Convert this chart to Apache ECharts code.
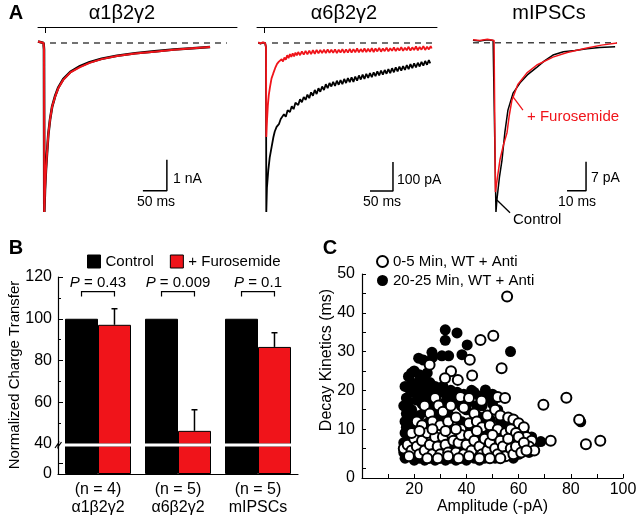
<!DOCTYPE html>
<html>
<head>
<meta charset="utf-8">
<script src="https://cdn.jsdelivr.net/npm/echarts@6/dist/echarts.min.js"></script>
<style>
  html, body { margin: 0; padding: 0; background: #fff; }
  #main { width: 640px; height: 519px; }
</style>
</head>
<body>
<div id="main"></div>
<script>
const FONT = "'Liberation Sans', Arial, Helvetica, sans-serif";
const RED = '#f0141a';

// ---- panel A : current traces, [time (ms), current] ----
// a1b2g2, nA
const a1Control = [[-12.5,0.05],[-1,0],[0,-0.2],[0.6,-5.45],[2,-4.75],[4,-4.1],[6.3,-3.55],[9,-2.95],[12.5,-2.48],[17,-2.05],[23,-1.72],[30,-1.43],[40,-1.17],[55,-0.93],[75,-0.75],[95,-0.62],[120,-0.51],[152,-0.41],[190,-0.33],[230,-0.27],[270,-0.21],[310,-0.17],[346,-0.13]];
const a1Furo = [[-12.5,0.05],[-1,0],[0,-0.2],[0.6,-5.45],[2,-4.75],[4,-4.1],[6.3,-3.55],[9,-2.95],[12.5,-2.48],[17,-2.05],[23,-1.74],[30,-1.45],[40,-1.19],[55,-0.95],[75,-0.78],[95,-0.64],[120,-0.52],[152,-0.42],[190,-0.34],[230,-0.28],[270,-0.22],[310,-0.17],[346,-0.13]];
// a6b2g2, pA
const a6Control = [[-17,1],[-12,-2],[-7,1],[-2,0],[0,-15],[0.6,-583],[2,-500],[5,-438],[8,-395],[12.3,-357],[16,-325],[19,-305],[23,-289],[26,-284],[28,-280],[32,-262],[35,-266],[39,-246],[43,-254],[47,-232],[52,-238],[56,-218],[60,-228],[64,-206],[70,-214],[74,-194],[78,-204],[82,-186],[86,-196],[90,-178],[94,-190],[98,-170],[102,-182],[106,-162],[110,-176],[114,-156],[118,-168],[122,-150],[126,-162],[130,-142],[134,-156],[138,-138],[142,-150],[146,-134],[150,-148],[154,-130],[158,-144],[162,-128],[166,-142],[170,-124],[174,-138],[178,-121],[182,-135],[186,-118],[190,-134],[194,-116],[198,-130],[202,-112],[206,-126],[210,-109],[214,-124],[218,-106],[222,-120],[226,-104],[230,-118],[234,-101],[238,-114],[242,-98],[246,-112],[250,-95],[254,-109],[258,-93],[262,-106],[266,-90],[270,-104],[274,-87],[278,-101],[282,-84],[286,-98],[290,-81],[294,-95],[298,-80],[302,-93],[306,-76],[310,-90],[314,-73],[318,-87],[322,-70],[326,-84],[330,-68],[334,-81],[338,-65],[342,-78],[346,-62],[350,-75],[354,-59],[357,-70]];
const a6Furo = [[-17,2],[-12,-1],[-7,2],[-2,0],[0,-15],[0.6,-324],[1.5,-290],[2.2,-266],[4,-215],[6,-180],[8.7,-151],[12,-122],[15.9,-104],[20,-86],[22,-90],[24,-72],[26,-78],[28,-64],[31,-70],[34,-56],[37,-64],[40,-50],[43,-58],[46,-42],[49,-52],[52,-38],[55,-48],[58,-36],[61,-46],[64,-33],[67,-43],[70,-31],[74,-42],[78,-29],[82,-40],[86,-27],[90,-39],[94,-26],[98,-38],[102,-25],[106,-37],[110,-24],[114,-36],[118,-24],[122,-35],[126,-23],[130,-35],[134,-22],[138,-34],[142,-23],[146,-34],[150,-22],[154,-35],[158,-23],[162,-33],[166,-21],[170,-34],[174,-22],[178,-33],[182,-20],[186,-33],[190,-21],[194,-32],[198,-19],[202,-32],[206,-21],[210,-31],[214,-19],[218,-31],[222,-20],[226,-30],[230,-18],[234,-31],[238,-19],[242,-29],[246,-17],[250,-30],[254,-19],[258,-28],[262,-16],[266,-29],[270,-18],[274,-27],[278,-15],[282,-28],[286,-17],[290,-26],[294,-14],[298,-27],[302,-16],[306,-25],[310,-13],[314,-26],[318,-15],[322,-24],[326,-12],[330,-25],[334,-14],[338,-23],[342,-11],[346,-24],[350,-13],[354,-22],[358,-11],[360,-19]];
// mIPSCs, pA
const mControl = [[-11.6,0.2],[-8,0],[-4,0.3],[-1,0.1],[0,0],[0.5,-41.3],[1,-38.4],[2.3,-33],[3.7,-28.7],[5.2,-22],[6.8,-16.7],[9.5,-12.6],[13.2,-10.1],[17,-8.2],[22.1,-6.3],[26,-4.8],[30.5,-3.4],[36,-2.6],[42,-2.3],[48.4,-1.9],[55,-1.6],[63.2,-1.4]];
const mFuro = [[-11.6,0.3],[-8,0.1],[-4,0.4],[-0.5,0.1],[0,-0.2],[0.2,-36.5],[2.6,-28.7],[4.5,-25],[6.3,-22.2],[7.5,-18],[8.9,-14.3],[12,-10.5],[16.8,-7.7],[22,-5.8],[30.5,-3.9],[38,-2.8],[48.4,-1.7],[56,-1.0],[64.2,-0.5]];

// ---- panel B : normalized charge transfer ----
const groups = ['α1β2γ2', 'α6β2γ2', 'mIPSCs'];
const nCells = [4, 5, 5];
const controlMean = [100, 100, 100];
const furoMean = [97.1, 46.3, 86.5];
const furoSem = [7.7, 10.1, 6.8];
const pValues = ['0.43', '0.009', '0.1'];
const bracketLevel = 113;

// ---- panel C : decay vs amplitude, [amplitude (-pA), decay (ms)] ----
const late = [[31.9,35.6],[31.9,32.9],[36.4,34.8],[40.3,31.7],[56.9,30.0],[26.8,29.8],[21.7,28.3],[23.5,27.8],[30.6,28.9],[33.2,28.9],[38.3,29.2],[27,28.5],
  [17.8,23.6],[22.3,22.7],[24,23.5],[19,22],[21,21],[23,20.5],[25,21],[18,20.5],[20,19.5],[22,19],[24,18.5],[26,19],[27,17.5],[21,17.5],[23,16.5],[30,20.1],[32,19],[33,18],[35,17.5],[36.5,19.5],[43,19.5],[47.3,20.1],[45,18.5],[50,16.5],[52,15],[29,16.5],
  [16.5,12],[16,16],[17,18],[18,17],[16.5,21],[19,24.5],[20,25],[22,24],[25,24.5],[20,13],[17,10.5],[19,11.5],[26,22],[28,21],[29,19.5],[31,21],[34,20],[37,18],[39,19],[41,17],[42,20],[46,16],[48,18],[50,19],[44,16],[38,16],[32,17],[27,15],[30,14.5],
  [17,14],[19,15],[18,12],[16.5,9],[18,8.5],[20,10.5],[22,13.5],[24,14.5],[21,8],[25,11.5],[28,13],[30,12],[33,14],[35,10],[38,12],[40,15],[42,11],[44,13.5],[47,10],[49,12.5],[51,9],[53,12],[55.5,10.5],[57,8.5],[59,7],[61,8],[62,5.5],[68.5,6.8],[83.8,11.9],[54,11],[45,8],
  [46,13],[50,10],[53,9.5],[56,11.5],[58,10],[60,9.5],[63,6],[65,8],[52,7],[44,6],[40,9],[36,8],[28,7],[24,9],[20,4],[22,6],[16,4],[26,3.5],[33,3.5],[42,3.5],[54,3],[58,2.5],[47,4],
  [16.5,2.5],[18,3],[20,2],[22,2.5],[24,2],[26,2.5],[28,2],[30,2.5],[32,2],[34,2.5],[36,2],[38,2.5],[40,2],[43,2.5],[45,2],[47,2.5],[49,3],[51,2.5],[17,5],[19,6.5],[23,5],[27,4.5],[31,5],[35,5.5],[39,4.5],[44,4],[48,5],[52,4.5],[56,4],[60,3.5],[64,4],[66,6],[58,6.5],[62,9],[16,6.5]];
const early = [[55.6,44.2],[50.3,34.1],[45.4,33.0],[41.3,27.9],[53.5,25.7],[34.1,24.9],[31.8,23.1],[36.7,22.7],[42.2,23.8],[25.9,26.6],[69.5,16.3],[78.3,18.1],[83.2,12.4],[72.3,7.0],[85.8,6.1],[91.3,7.0],
  [28,18],[37.7,18.3],[41,18],[45.8,17.3],[52,18.3],[54.8,18],[29.3,16.1],[24,16],[26,14],[31,14.5],[34,16],[39,15.5],[43,14],[48,13.5],[51,15],[53,13.5],[56,13],[58,12.5],[60,11.5],[62,10.5],[21,12],[23,11],[27,12],[30,11],[33,12],[36,13],[38,10],[41,11.5],[44,12],[46,10.5],[49,11],[52,10],[55,9],[57,10],[59,9],[63,8],[65,7],[64,5.5],[66,4.5],[61,6],
  [16,5],[17.5,6],[19,4.5],[20,7.5],[21,5.5],[22,3.5],[23,7],[24,4.5],[25,9],[26,6],[27,3.5],[28,8],[29,5.5],[30,3.5],[31,8],[32,6],[33,4],[34,9],[35,7],[36,4],[37,6.5],[38,8.5],[39,3.5],[40,6],[41,8.5],[42,4.5],[43,7],[44,9.5],[45,5.5],[46,3.5],[47,7.5],[48,4.5],[49,6.5],[50,8.5],[51,5],[52,3.5],[53,7],[54,5.5],[55,3],[56,7.5],[57,5],[58,3.5],[59,5.5],[60,8],[61,4],[62,6.5],[63,4.5],[19,9],[22,9.5],[25,2.5],[29,2.5],[33,3],[37,2.5],[41,3],[45,2.5],[49,2.5],[53,2.5],[27,10],[32,9.5],[36,10],[18,3]];

const chart = echarts.init(document.getElementById('main'));

// helpers for the trace panels
function trace(grid, data, color, width) {
  return { type: 'line', xAxisIndex: grid, yAxisIndex: grid, data: data, symbol: 'none',
    lineStyle: { color: color, width: width }, z: 3, silent: true };
}
function dashed(grid, x0, x1, y) {
  return { type: 'line', xAxisIndex: grid, yAxisIndex: grid, data: [[x0, y], [x1, y]], symbol: 'none',
    lineStyle: { color: '#444', width: 1.5, type: [6, 5] }, z: 2, silent: true };
}
function scaleBar(grid, x0, x1, yb, yt) {
  return { type: 'line', xAxisIndex: grid, yAxisIndex: grid, data: [[x0, yb], [x1, yb], [x1, yt]], symbol: 'none',
    lineStyle: { color: '#000', width: 1.5 }, silent: true };
}

const barShift = 0.206;

const option = {
  animation: false,
  textStyle: { fontFamily: FONT },
  grid: [
    { left: 38, top: 27, width: 199, height: 193 },
    { left: 257, top: 27, width: 180, height: 193 },
    { left: 470, top: 27, width: 155, height: 204.4 },
    { left: 58, top: 277, width: 240, height: 167 },
    { left: 58, top: 446, width: 240, height: 28 },
    { left: 362, top: 274, width: 261, height: 204 }
  ],
  xAxis: [
    { type: 'value', gridIndex: 0, min: -12.5, max: 402.1, position: 'top',
      axisLine: { onZero: false, lineStyle: { color: '#000', width: 1 } },
      axisTick: { show: true, inside: true, length: 6, customValues: [2], lineStyle: { color: '#000' } },
      axisLabel: { show: false }, splitLine: { show: false } },
    { type: 'value', gridIndex: 1, min: -19.6, max: 371.7, position: 'top',
      axisLine: { onZero: false, lineStyle: { color: '#000', width: 1 } },
      axisTick: { show: true, inside: true, length: 6, customValues: [-4], lineStyle: { color: '#000' } },
      axisLabel: { show: false }, splitLine: { show: false } },
    { type: 'value', gridIndex: 2, min: -13.16, max: 68.4, show: false },
    { type: 'category', gridIndex: 3, data: groups, show: false, axisLine: { show: false } },
    { type: 'category', gridIndex: 4, data: groups,
      axisLine: { onZero: false, lineStyle: { color: '#000', width: 1.2 } },
      axisTick: { show: false },
      axisLabel: { interval: 0, color: '#000', fontSize: 16, lineHeight: 18, margin: 7, fontFamily: FONT,
        formatter: (v, i) => '(n = ' + nCells[i] + ')\n' + v } },
    { type: 'value', gridIndex: 5, min: 0, max: 100, interval: 10,
      name: 'Amplitude (-pA)', nameLocation: 'middle', nameGap: 21,
      nameTextStyle: { color: '#000', fontSize: 16, fontFamily: FONT },
      axisLine: { onZero: false, lineStyle: { color: '#000', width: 1.2 } },
      axisTick: { inside: true, length: 4, lineStyle: { color: '#000' } },
      axisLabel: { color: '#000', fontSize: 16, margin: 4, fontFamily: FONT,
        formatter: v => (v > 0 && v % 20 === 0) ? String(v) : '' },
      splitLine: { show: false } }
  ],
  yAxis: [
    { type: 'value', gridIndex: 0, min: -5.71, max: 0.516, show: false },
    { type: 'value', gridIndex: 1, min: -610.3, max: 55.2, show: false },
    { type: 'value', gridIndex: 2, min: -46, max: 3.38, show: false },
    { type: 'value', gridIndex: 3, min: 40, max: 120, interval: 20,
      axisLine: { show: true, onZero: false, lineStyle: { color: '#000', width: 1.2 } },
      axisTick: { show: true, inside: true, length: 5, lineStyle: { color: '#000' } },
      minorTick: { show: true, splitNumber: 2, length: 3, lineStyle: { color: '#000' } },
      axisLabel: { color: '#000', fontSize: 16, margin: 6, fontFamily: FONT },
      splitLine: { show: false } },
    { type: 'value', gridIndex: 4, min: 0, max: 26,
      axisLine: { show: true, onZero: false, lineStyle: { color: '#000', width: 1.2 } },
      axisTick: { show: true, inside: true, length: 5, customValues: [10], lineStyle: { color: '#000' } },
      axisLabel: { color: '#000', fontSize: 16, margin: 6, fontFamily: FONT, customValues: [0] },
      splitLine: { show: false } },
    { type: 'value', gridIndex: 5, min: -2.6, max: 50,
      axisLine: { show: true, onZero: false, lineStyle: { color: '#000', width: 1.2 } },
      axisTick: { show: true, inside: true, length: 4, customValues: [0,5,10,15,20,25,30,35,40,45,50], lineStyle: { color: '#000' } },
      axisLabel: { color: '#000', fontSize: 16, margin: 7, fontFamily: FONT, customValues: [-2.6,10,20,30,40,50],
        formatter: v => v < 0 ? '0' : String(Math.round(v)) },
      splitLine: { show: false } }
  ],
  legend: [
    { left: 82, top: 249, itemWidth: 13, itemHeight: 13, itemGap: 16, selectedMode: false,
      textStyle: { fontSize: 15, color: '#000', fontFamily: FONT },
      data: [
        { name: 'Control', icon: 'rect', itemStyle: { color: '#000', borderColor: '#000', borderWidth: 1 } },
        { name: '+ Furosemide', icon: 'rect', itemStyle: { color: RED, borderColor: '#000', borderWidth: 1 } }
      ] },
    { left: 371, top: 249, orient: 'vertical', itemWidth: 11, itemHeight: 11, itemGap: 4, selectedMode: false,
      textStyle: { fontSize: 15, color: '#000', fontFamily: FONT },
      data: [
        { name: '0-5 Min, WT + Anti', icon: 'circle', itemStyle: { color: '#fff', borderColor: '#000', borderWidth: 2 } },
        { name: '20-25 Min, WT + Anti', icon: 'circle', itemStyle: { color: '#000', borderColor: '#000', borderWidth: 0 } }
      ] }
  ],
  series: [
    // panel A
    dashed(0, 12.5, 381, 0),
    trace(0, a1Control, '#000', 2.6),
    trace(0, a1Furo, RED, 2),
    dashed(1, 13, 361, 0),
    trace(1, a6Control, '#000', 1.8),
    trace(1, a6Furo, RED, 1.8),
    dashed(2, -11.6, 64, -0.4),
    trace(2, mControl, '#000', 1.5),
    trace(2, mFuro, RED, 1.5),
    scaleBar(0, 206, 256, -4.77, -3.77),
    scaleBar(1, 226, 276, -510, -410),
    scaleBar(2, 37.9, 47.9, -36.2, -29.2),
    { type: 'line', xAxisIndex: 2, yAxisIndex: 2, data: [[9.5, -13.5], [14.7, -16.7]], symbol: 'none',
      lineStyle: { color: RED, width: 1.3 }, silent: true },
    { type: 'line', xAxisIndex: 2, yAxisIndex: 2, data: [[1, -38.4], [7.9, -41.5]], symbol: 'none',
      lineStyle: { color: '#000', width: 1.3 }, silent: true },

    // panel B, upper and lower part of the broken axis
    { name: 'Control', type: 'bar', xAxisIndex: 3, yAxisIndex: 3, data: controlMean, clip: true,
      barGap: '0%', barCategoryGap: '17.5%', itemStyle: { color: '#000', borderColor: '#000', borderWidth: 1 } },
    { name: '+ Furosemide', type: 'bar', xAxisIndex: 3, yAxisIndex: 3, data: furoMean, clip: true,
      barGap: '0%', barCategoryGap: '17.5%', itemStyle: { color: RED, borderColor: '#000', borderWidth: 1 } },
    { name: 'Control', type: 'bar', xAxisIndex: 4, yAxisIndex: 4, data: controlMean, clip: true,
      barGap: '0%', barCategoryGap: '17.5%', itemStyle: { color: '#000', borderColor: '#000', borderWidth: 1 } },
    { name: '+ Furosemide', type: 'bar', xAxisIndex: 4, yAxisIndex: 4, data: furoMean, clip: true,
      barGap: '0%', barCategoryGap: '17.5%', itemStyle: { color: RED, borderColor: '#000', borderWidth: 1 } },
    { type: 'custom', xAxisIndex: 3, yAxisIndex: 3, silent: true, z: 5,
      data: furoMean.map((m, i) => [i, m, furoSem[i]]),
      renderItem: function (params, api) {
        const i = api.value(0);
        const base = api.coord([i, api.value(1)]);
        const top = api.coord([i, api.value(1) + api.value(2)]);
        const x = base[0] + api.size([1, 0])[0] * barShift;
        const st = { stroke: '#000', lineWidth: 1.5 };
        return { type: 'group', children: [
          { type: 'line', shape: { x1: x, y1: base[1], x2: x, y2: top[1] }, style: st },
          { type: 'line', shape: { x1: x - 3, y1: top[1], x2: x + 3, y2: top[1] }, style: st }
        ] };
      } },
    { type: 'custom', xAxisIndex: 3, yAxisIndex: 3, silent: true, z: 5,
      data: pValues.map((p, i) => [i, bracketLevel]),
      renderItem: function (params, api) {
        const i = api.value(0);
        const c = api.coord([i, api.value(1)]);
        const off = api.size([1, 0])[0] * barShift;
        const legY = api.coord([i, api.value(1) - 2.4])[1];
        const txtY = api.coord([i, api.value(1) + 4.2])[1];
        return { type: 'group', children: [
          { type: 'polyline', shape: { points: [[c[0] - off, legY], [c[0] - off, c[1]], [c[0] + off, c[1]], [c[0] + off, legY]] },
            style: { stroke: '#000', lineWidth: 1.2, fill: null } },
          { type: 'text', x: c[0], y: txtY,
            style: { text: '{i|P} = ' + pValues[i], align: 'center', verticalAlign: 'middle', fill: '#000',
              fontSize: 15, fontFamily: FONT,
              rich: { i: { fontStyle: 'italic', fontSize: 15, fontFamily: FONT, fill: '#000' } } } }
        ] };
      } },

    // panel C
    { name: '20-25 Min, WT + Anti', type: 'scatter', xAxisIndex: 5, yAxisIndex: 5, data: late,
      symbolSize: 11, itemStyle: { color: '#000', opacity: 1 }, silent: true },
    { name: '0-5 Min, WT + Anti', type: 'scatter', xAxisIndex: 5, yAxisIndex: 5, data: early,
      symbolSize: 10, itemStyle: { color: '#fff', borderColor: '#000', borderWidth: 2, opacity: 1 }, silent: true }
  ],
  graphic: [
    { type: 'text', x: 16, y: 13, style: { text: 'A', fontSize: 20, fontWeight: 'bold', fontFamily: FONT, fill: '#000', align: 'center', verticalAlign: 'middle' } },
    { type: 'text', x: 16, y: 248, style: { text: 'B', fontSize: 20, fontWeight: 'bold', fontFamily: FONT, fill: '#000', align: 'center', verticalAlign: 'middle' } },
    { type: 'text', x: 330, y: 248, style: { text: 'C', fontSize: 20, fontWeight: 'bold', fontFamily: FONT, fill: '#000', align: 'center', verticalAlign: 'middle' } },
    { type: 'text', x: 122, y: 13, style: { text: 'α1β2γ2', fontSize: 20, fontFamily: FONT, fill: '#000', align: 'center', verticalAlign: 'middle' } },
    { type: 'text', x: 344, y: 13, style: { text: 'α6β2γ2', fontSize: 20, fontFamily: FONT, fill: '#000', align: 'center', verticalAlign: 'middle' } },
    { type: 'text', x: 549, y: 13, style: { text: 'mIPSCs', fontSize: 20, fontFamily: FONT, fill: '#000', align: 'center', verticalAlign: 'middle' } },
    { type: 'text', x: 173, y: 179, style: { text: '1 nA', fontSize: 14, fontFamily: FONT, fill: '#000', align: 'left', verticalAlign: 'middle' } },
    { type: 'text', x: 156, y: 202, style: { text: '50 ms', fontSize: 14, fontFamily: FONT, fill: '#000', align: 'center', verticalAlign: 'middle' } },
    { type: 'text', x: 397, y: 180, style: { text: '100 pA', fontSize: 14, fontFamily: FONT, fill: '#000', align: 'left', verticalAlign: 'middle' } },
    { type: 'text', x: 382, y: 202, style: { text: '50 ms', fontSize: 14, fontFamily: FONT, fill: '#000', align: 'center', verticalAlign: 'middle' } },
    { type: 'text', x: 591, y: 178, style: { text: '7 pA', fontSize: 14, fontFamily: FONT, fill: '#000', align: 'left', verticalAlign: 'middle' } },
    { type: 'text', x: 577, y: 202, style: { text: '10 ms', fontSize: 14, fontFamily: FONT, fill: '#000', align: 'center', verticalAlign: 'middle' } },
    { type: 'text', x: 527, y: 117, style: { text: '+ Furosemide', fontSize: 15, fontFamily: FONT, fill: RED, align: 'left', verticalAlign: 'middle' } },
    { type: 'text', x: 513, y: 220, style: { text: 'Control', fontSize: 15, fontFamily: FONT, fill: '#000', align: 'left', verticalAlign: 'middle' } },
    { type: 'text', x: 15, y: 375, rotation: Math.PI / 2, style: { text: 'Normalized Charge Transfer', fontSize: 15, fontFamily: FONT, fill: '#000', align: 'center', verticalAlign: 'middle' } },
    { type: 'text', x: 327, y: 360, rotation: Math.PI / 2, style: { text: 'Decay Kinetics (ms)', fontSize: 16, fontFamily: FONT, fill: '#000', align: 'center', verticalAlign: 'middle' } },
    // white break across the bars, and the break mark on the axis
    { type: 'rect', z: 100, shape: { x: 60, y: 443.5, width: 238, height: 3 }, style: { fill: '#fff' } },
    { type: 'polyline', z: 101, shape: { points: [[55, 448], [58.5, 443], [58, 447], [61.5, 442]] }, style: { stroke: '#000', lineWidth: 1.2, fill: null } }
  ]
};

chart.setOption(option);
</script>
</body>
</html>
